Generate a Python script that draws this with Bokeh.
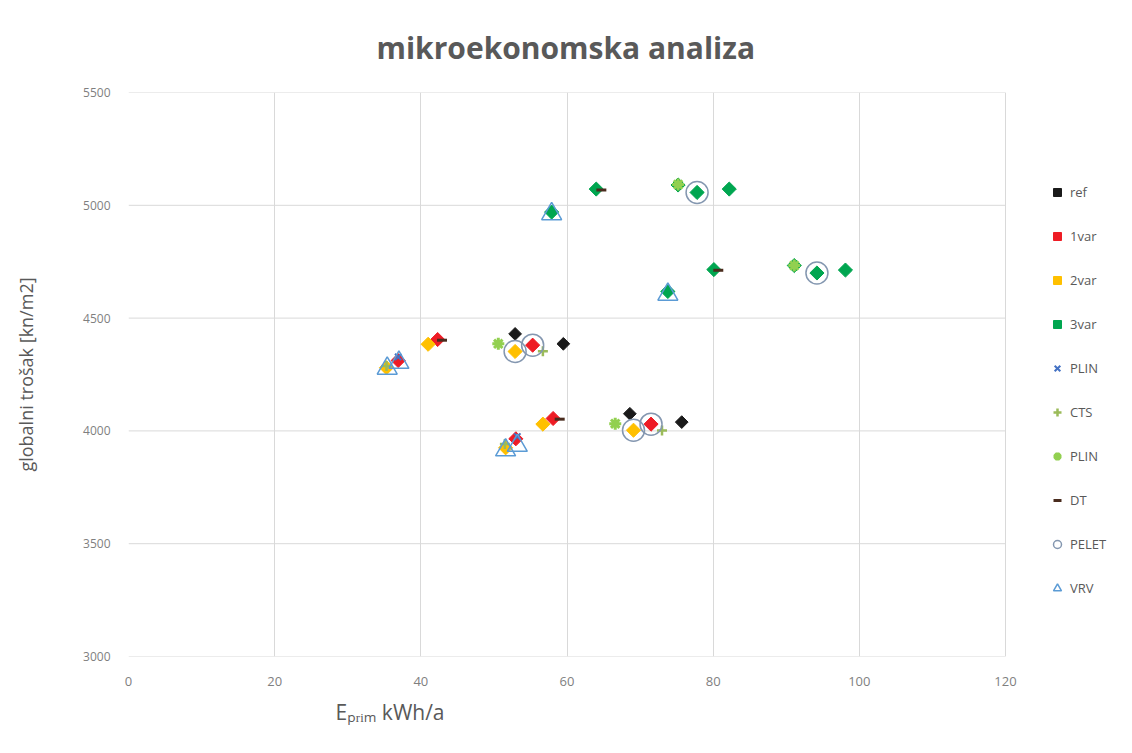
import math
from bokeh.plotting import figure
from bokeh.models import Range1d, FixedTicker, Legend, LegendItem, Title
from bokeh.embed import file_html
from bokeh.resources import INLINE

# ---- data ----
x_ticks = [0, 20, 40, 60, 80, 100, 120]
y_ticks = [3000, 3500, 4000, 4500, 5000, 5500]

ref_x = [52.9, 59.5, 68.6, 75.7]
ref_y = [4430, 4386, 4076, 4039]

var1_x = [36.9, 42.3, 55.3, 53.0, 58.1, 71.5]
var1_y = [4312, 4405, 4380, 3965, 4055, 4030]

var2_x = [35.3, 41.0, 52.9, 51.6, 56.7, 69.1]
var2_y = [4280, 4384, 4352, 3925, 4030, 4003]

var3_x = [57.9, 64.0, 75.2, 77.8, 82.2, 73.8, 80.1, 91.1, 94.2, 98.1]
var3_y = [4970, 5072, 5090, 5057, 5072, 4618, 4715, 4733, 4700, 4713]

plin_x = [36.9, 53.2]
plin_y = [4328, 3975]

cts_x = [35.3, 51.5, 56.7, 73.0]
cts_y = [4288, 3942, 4353, 4002]

plin2_x = [75.2, 91.1, 50.6, 66.6]
plin2_y = [5092, 4733, 4386, 4032]

dt_x = [64.7, 80.7, 42.9, 59.0]
dt_y = [5068, 4712, 4402, 4052]

pelet_x = [77.8, 94.2, 52.9, 55.3, 69.1, 71.5]
pelet_y = [5057, 4700, 4352, 4380, 4003, 4030]

vrv_x = [57.9, 73.8, 35.4, 37.0, 51.6, 53.2]
vrv_y = [4962, 4605, 4277, 4303, 3915, 3935]

series_names = ["ref", "1var", "2var", "3var", "PLIN", "CTS", "PLIN", "DT", "PELET", "VRV"]

TXT = "#595959"
GRID = "#d9d9d9"

# layout: plot area spans 877 px for 0..120; the frame is widened to the right
# so that the legend (drawn inside the frame) is not clipped
W, H = 1124, 745
LEFT, TOP, BOTTOM = 128, 92, 89
AREA_W = 877
FRAME_W = W - LEFT
x_max = x_ticks[-1] * FRAME_W / AREA_W

p = figure(width=W, height=H, output_backend="svg", toolbar_location=None,
           x_range=Range1d(0, x_max), y_range=Range1d(y_ticks[0], y_ticks[-1]),
           min_border_left=LEFT, min_border_right=0, min_border_top=TOP,
           min_border_bottom=BOTTOM)
p.outline_line_color = None
p.background_fill_color = "white"
p.border_fill_color = "white"

p.title.text = "mikroekonomska analiza"
p.title.align = "left"
p.title.offset = 248
p.title.text_font = "Open Sans"
p.title.text_font_style = "bold"
p.title.text_font_size = "30px"
p.title.text_color = TXT
p.title.standoff = 49

p.xaxis.ticker = FixedTicker(ticks=x_ticks)
p.yaxis.ticker = FixedTicker(ticks=y_ticks)
for ax in (p.xaxis, p.yaxis):
    ax.major_tick_line_color = None
    ax.minor_tick_line_color = None
    ax.axis_line_color = None
    ax.major_label_text_color = "#7f7f7f"
    ax.major_label_text_font = "Open Sans"
p.xaxis.major_label_text_font_size = "13px"
p.yaxis.major_label_text_font_size = "12px"
p.xaxis.major_label_standoff = 14
p.yaxis.major_label_standoff = 12

p.yaxis.axis_label = "globalni trošak [kn/m2]"
p.yaxis.axis_label_text_font = "Open Sans"
p.yaxis.axis_label_text_font_style = "normal"
p.yaxis.axis_label_text_font_size = "18px"
p.yaxis.axis_label_text_color = TXT
p.yaxis.axis_label_standoff = 42

xlab = Title(text="Eₚᵣᵢₘ kWh/a", align="left", offset=207, standoff=14,
             text_font="Open Sans", text_font_style="normal",
             text_font_size="21px", text_color=TXT)
p.add_layout(xlab, "below")

# grid: vertical lines via the grid, horizontal lines limited to the 0..120 area
p.xgrid.ticker = FixedTicker(ticks=x_ticks)
p.xgrid.grid_line_color = GRID
p.ygrid.grid_line_color = None
p.segment(x0=[x_ticks[0]] * len(y_ticks), x1=[x_ticks[-1]] * len(y_ticks),
          y0=y_ticks, y1=y_ticks, line_color=GRID, line_width=1)

rot = math.pi / 4
r_ref = p.scatter(ref_x, ref_y, marker="square", size=9, angle=rot,
                  fill_color="#1a1a1a", line_color="#1a1a1a")
r_v1 = p.scatter(var1_x, var1_y, marker="square", size=10, angle=rot,
                 fill_color="#ee1c25", line_color="#ee1c25")
r_v2 = p.scatter(var2_x, var2_y, marker="square", size=10, angle=rot,
                 fill_color="#ffc000", line_color="#ffc000")
r_v3 = p.scatter(var3_x, var3_y, marker="square", size=10, angle=rot,
                 fill_color="#00a650", line_color="#00a650")
r_plin = p.scatter(plin_x, plin_y, marker="x", size=9, line_width=2,
                   line_color="#4472c4")
r_cts = p.scatter(cts_x, cts_y, marker="cross", size=10, line_width=2.5,
                  line_color="#9bbb59")
r_plin2 = p.scatter(plin2_x, plin2_y, marker="asterisk", size=12, line_width=3,
                    line_color="#92d050")
r_dt = p.scatter(dt_x, dt_y, marker="dash", size=10, line_width=3,
                 line_color="#4a2c1e")
r_pelet = p.scatter(pelet_x, pelet_y, marker="circle", size=22, fill_color=None,
                    line_color="#8497b0", line_width=1.5)
r_vrv = p.scatter(vrv_x, vrv_y, marker="triangle", size=20, fill_color=None,
                  line_color="#5b9bd5", line_width=1.5)

renderers = [r_ref, r_v1, r_v2, r_v3, r_plin, r_cts, r_plin2, r_dt, r_pelet, r_vrv]
items = [LegendItem(label=n, renderers=[r]) for n, r in zip(series_names, renderers)]
legend = Legend(items=items, location=(919, 58), orientation="vertical",
                glyph_width=20, glyph_height=20, label_height=20, spacing=24,
                padding=2, margin=0, label_standoff=3,
                label_text_font="Open Sans", label_text_font_size="13px",
                label_text_color=TXT, border_line_color=None,
                background_fill_alpha=0)
p.add_layout(legend, "center")

open("out.html", "w").write(file_html(p, INLINE))
